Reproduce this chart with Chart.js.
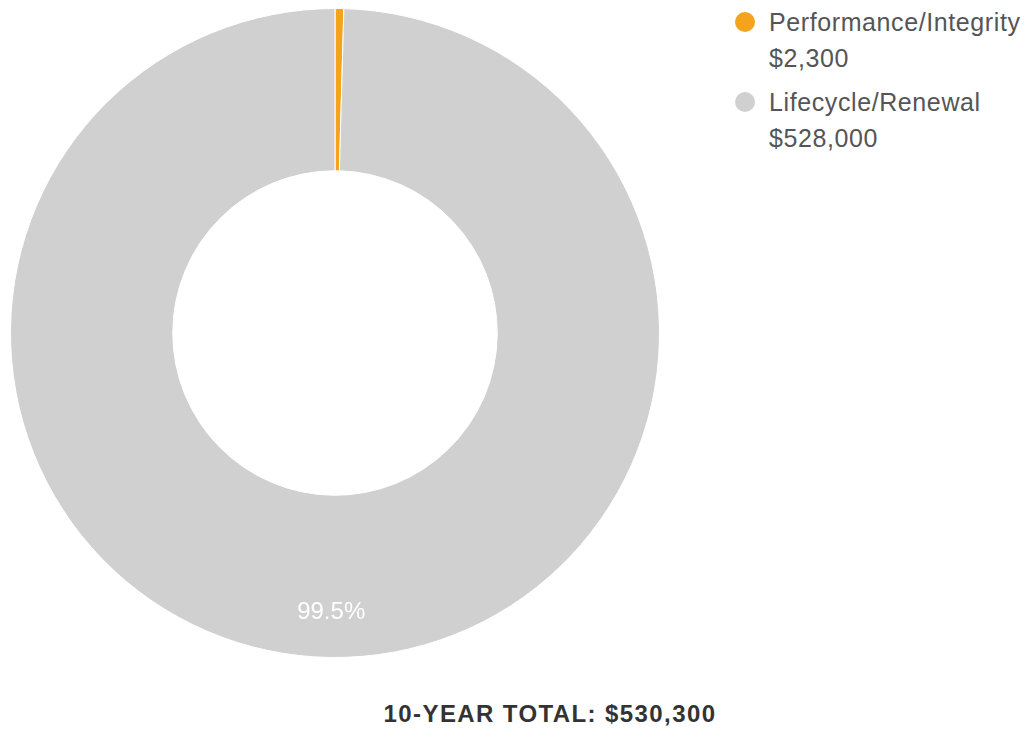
<!DOCTYPE html>
<html>
<head>
<meta charset="utf-8">
<script src="https://cdn.jsdelivr.net/npm/chart.js@4.4.1/dist/chart.umd.min.js"></script>
<style>
  html, body { margin: 0; padding: 0; background: #fff; }
  body { width: 1036px; height: 742px; position: relative; overflow: hidden; font-family: "Liberation Sans", Arial, sans-serif; }
  #chartBox { position: absolute; left: 10px; top: 8px; width: 650px; height: 650px; }
  #legend { position: absolute; left: 734px; top: 4px; }
  .item { display: flex; align-items: flex-start; margin-bottom: 8px; }
  .dot { width: 20px; height: 20px; border-radius: 50%; margin: 8px 14px 0 1px; flex: none; }
  .txt { color: #555; font-size: 25px; line-height: 36px; letter-spacing: 0.6px; }
  #total { position: absolute; top: 700px; left: 550px; transform: translateX(-50%); white-space: nowrap;
    font-weight: bold; font-size: 24px; letter-spacing: 1.4px; color: #333; }
</style>
</head>
<body>
<div id="chartBox"><canvas id="costChart"></canvas></div>
<div id="legend"></div>
<div id="total"></div>

<script>
// Data
const categories = ['Performance/Integrity', 'Lifecycle/Renewal'];
const costs = [2300, 528000];
const sliceColors = ['#f5a21c', '#d0d0d0'];

const total = costs.reduce((a, b) => a + b, 0);
const money = v => '$' + v.toLocaleString('en-US');

// Percentage labels inside the ring
const sliceLabels = {
    id: 'sliceLabels',
    afterDatasetsDraw(chart) {
        const ctx = chart.ctx;
        const meta = chart.getDatasetMeta(0);
        meta.data.forEach((arc, i) => {
            const pct = costs[i] / total * 100;
            if (pct < 5) return;
            const p = arc.getProps(['x', 'y', 'startAngle', 'endAngle', 'innerRadius', 'outerRadius'], true);
            const mid = (p.startAngle + p.endAngle) / 2;
            const r = p.innerRadius + 0.72 * (p.outerRadius - p.innerRadius);
            ctx.save();
            ctx.fillStyle = '#fff';
            ctx.font = '24px "Liberation Sans", Arial, sans-serif';
            ctx.textAlign = 'center';
            ctx.textBaseline = 'middle';
            ctx.fillText((Math.floor(pct * 10) / 10).toFixed(1) + '%', p.x + Math.cos(mid) * r, p.y + Math.sin(mid) * r);
            ctx.restore();
        });
    }
};

new Chart(document.getElementById('costChart'), {
    type: 'doughnut',
    data: {
        labels: categories,
        datasets: [{
            data: costs,
            backgroundColor: sliceColors,
            borderColor: '#fff',
            borderWidth: 1
        }]
    },
    options: {
        responsive: true,
        maintainAspectRatio: false,
        animation: false,
        cutout: '50%',
        plugins: {
            legend: { display: false },
            tooltip: { enabled: false }
        }
    },
    plugins: [sliceLabels]
});

// Legend
const legend = document.getElementById('legend');
categories.forEach((name, i) => {
    const item = document.createElement('div');
    item.className = 'item';
    item.innerHTML = '<span class="dot" style="background:' + sliceColors[i] + '"></span>' +
        '<span class="txt">' + name + '<br>' + money(costs[i]) + '</span>';
    legend.appendChild(item);
});

document.getElementById('total').textContent = '10-YEAR TOTAL: ' + money(total);
</script>
</body>
</html>
